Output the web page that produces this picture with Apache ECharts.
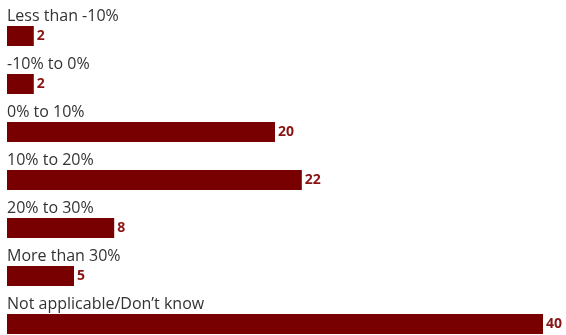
<!DOCTYPE html>
<html>
<head>
<meta charset="utf-8">
<script src="https://cdn.jsdelivr.net/npm/echarts@6/dist/echarts.min.js"></script>
<style>
  html, body { margin: 0; padding: 0; background: #fff; overflow: hidden; }
  #frame { width: 566px; height: 335px; overflow: hidden; }
  /* the last bar runs flush to the lower edge, so the canvas extends past the frame */
  #chart { width: 566px; height: 348px; }
</style>
</head>
<body>
<div id="frame"><div id="chart"></div></div>
<script>
// Survey answer buckets, top to bottom
const categories = [
  'Less than -10%',
  '-10% to 0%',
  '0% to 10%',
  '10% to 20%',
  '20% to 30%',
  'More than 30%',
  'Not applicable/Don\u2019t know'
];
const values = [2, 2, 20, 22, 8, 5, 40];

const chart = echarts.init(document.getElementById('chart'), null, { renderer: 'canvas' });

chart.setOption({
  animation: false,
  grid: { left: 7, right: 23, top: 12, bottom: 0, containLabel: false },
  xAxis: {
    type: 'value', min: 0, max: 40,
    show: false
  },
  yAxis: {
    type: 'category', data: categories, inverse: true,
    show: false
  },
  series: [
    {
      // value bars with bold numbers at the end
      type: 'bar',
      data: values,
      barWidth: 20,
      itemStyle: { color: '#780000' },
      label: {
        show: true, position: 'right', distance: 3,
        color: '#8a1414', fontWeight: 'bold', fontSize: 14,
        fontFamily: 'Open Sans'
      },
      z: 2
    },
    {
      // invisible twin bars carrying the category captions above each bar
      type: 'bar',
      data: values,
      barWidth: 20,
      barGap: '-100%',
      itemStyle: { color: 'rgba(0,0,0,0)' },
      label: {
        show: true,
        position: [0, -2],
        verticalAlign: 'bottom',
        align: 'left',
        color: '#333',
        fontSize: 16,
        fontFamily: 'Open Sans',
        formatter: p => categories[p.dataIndex]
      },
      silent: true,
      z: 1
    }
  ]
});
</script>
</body>
</html>
